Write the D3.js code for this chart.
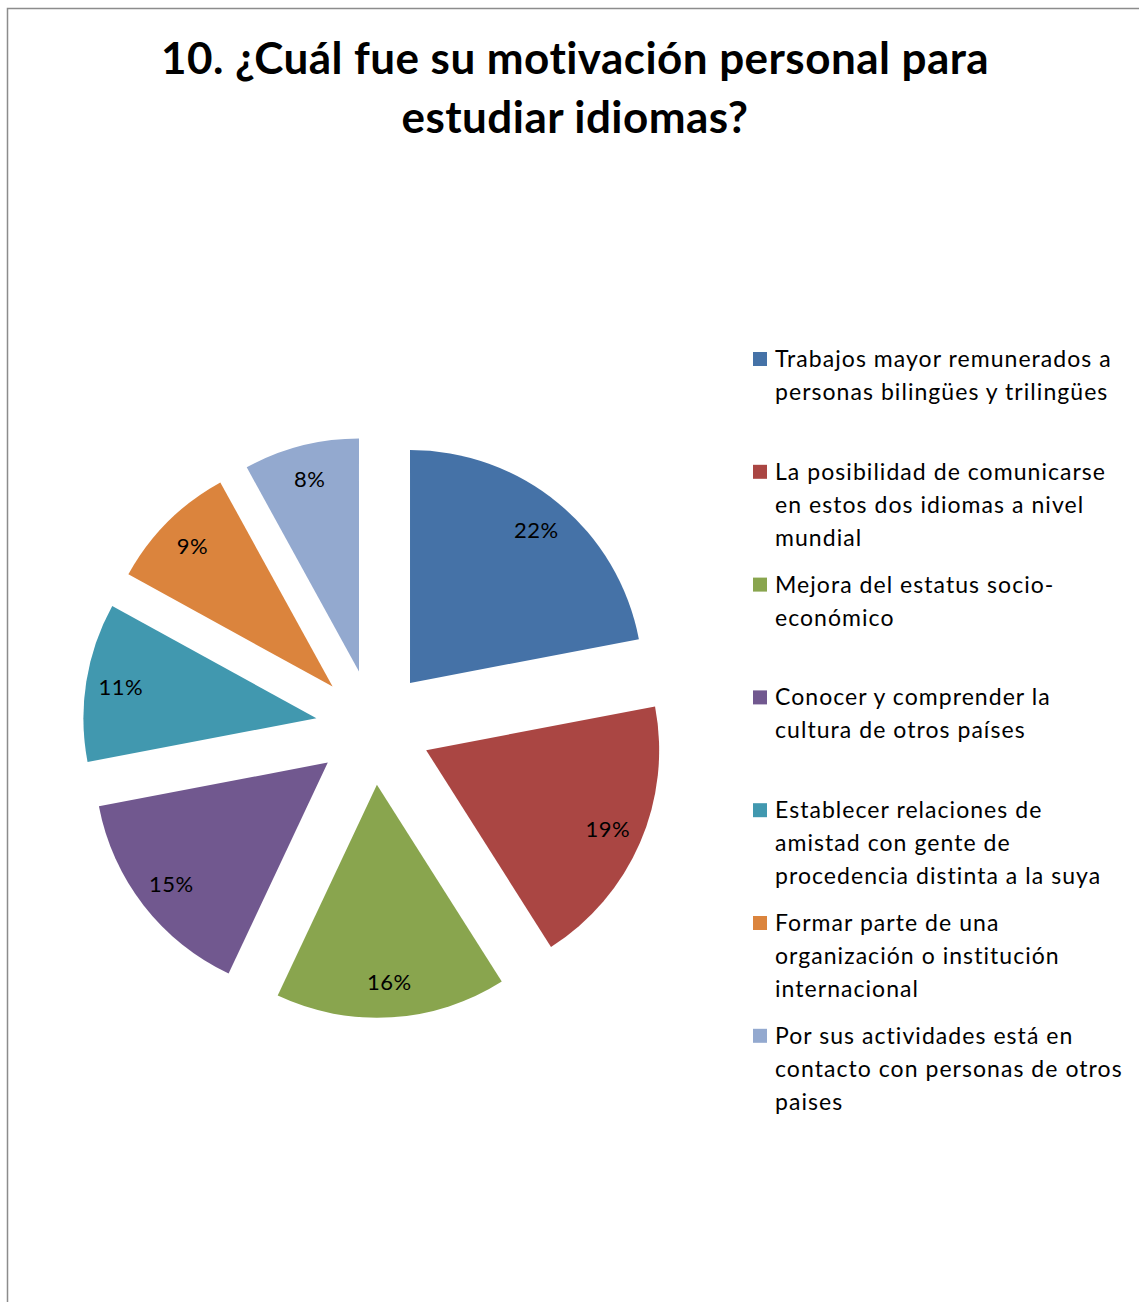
<!DOCTYPE html>
<html>
<head>
<meta charset="utf-8">
<script src="https://cdn.jsdelivr.net/npm/d3@7"></script>
<style>
  html, body { margin: 0; padding: 0; background: #fff; }
  svg { display: block; }
</style>
</head>
<body>
<svg id="chart" width="1139" height="1302"></svg>
<script>
const titleLines = ["10. ¿Cuál fue su motivación personal para", "estudiar idiomas?"];
const categories = [
  "Trabajos mayor remunerados a\npersonas bilingües y trilingües",
  "La posibilidad de comunicarse\nen estos dos idiomas a nivel\nmundial",
  "Mejora del estatus socio-\neconómico",
  "Conocer y comprender la\ncultura de otros países",
  "Establecer relaciones de\namistad con gente de\nprocedencia distinta a la suya",
  "Formar parte de una\norganización o institución\ninternacional",
  "Por sus actividades está en\ncontacto con personas de otros\npaises"
];
const values = [22, 19, 16, 15, 11, 9, 8];
const colors = ["#4572A7", "#AA4643", "#89A54E", "#71588F", "#4198AF", "#DB843D", "#93A9CF"];

const svg = d3.select("#chart");
const FONT = "Lato, 'Open Sans', sans-serif";

// chart frame
svg.append("rect")
  .attr("x", 7.5).attr("y", 8.5)
  .attr("width", 1140).attr("height", 1310)
  .attr("fill", "none").attr("stroke", "#8c8c8c").attr("stroke-width", 1.5);

// title
svg.append("g").selectAll("text").data(titleLines).join("text")
  .attr("x", 575).attr("y", (d, i) => 74 + i * 59)
  .attr("text-anchor", "middle")
  .attr("font-family", FONT).attr("font-weight", "bold")
  .attr("font-size", 44).attr("letter-spacing", 0.45).attr("fill", "#000")
  .text(d => d);

// pie
const cx = 373.3, cy = 727.3, R = 233, explode = 57.6;
const pie = d3.pie().sort(null).value(d => d)(values);
const arc = d3.arc().innerRadius(0).outerRadius(R);
const total = d3.sum(values);

const slices = svg.append("g").attr("transform", `translate(${cx},${cy})`)
  .selectAll("g").data(pie).join("g")
  .attr("transform", d => {
    const a = (d.startAngle + d.endAngle) / 2;
    return `translate(${explode * Math.sin(a)},${-explode * Math.cos(a)})`;
  });

slices.append("path")
  .attr("d", arc)
  .attr("fill", (d, i) => colors[i]);

slices.append("text")
  .attr("transform", d => {
    const a = (d.startAngle + d.endAngle) / 2;
    const r = R * 0.85;
    return `translate(${r * Math.sin(a)},${-r * Math.cos(a)})`;
  })
  .attr("text-anchor", "middle").attr("dy", "0.35em")
  .attr("font-family", FONT).attr("font-size", 22).attr("letter-spacing", 0.5).attr("fill", "#000")
  .text(d => Math.round(d.value / total * 100) + "%");

// legend
const legend = svg.append("g");
const items = legend.selectAll("g").data(categories).join("g")
  .attr("transform", (d, i) => `translate(0,${i * 112.8})`);
items.append("rect")
  .attr("x", 753).attr("y", 352).attr("width", 14).attr("height", 14)
  .attr("fill", (d, i) => colors[i]);
items.append("text")
  .attr("font-family", FONT).attr("font-size", 23).attr("letter-spacing", 1.05).attr("fill", "#000")
  .selectAll("tspan").data(d => d.split("\n")).join("tspan")
  .attr("x", 775).attr("y", (d, j) => 367 + j * 33)
  .text(d => d);
</script>
</body>
</html>
